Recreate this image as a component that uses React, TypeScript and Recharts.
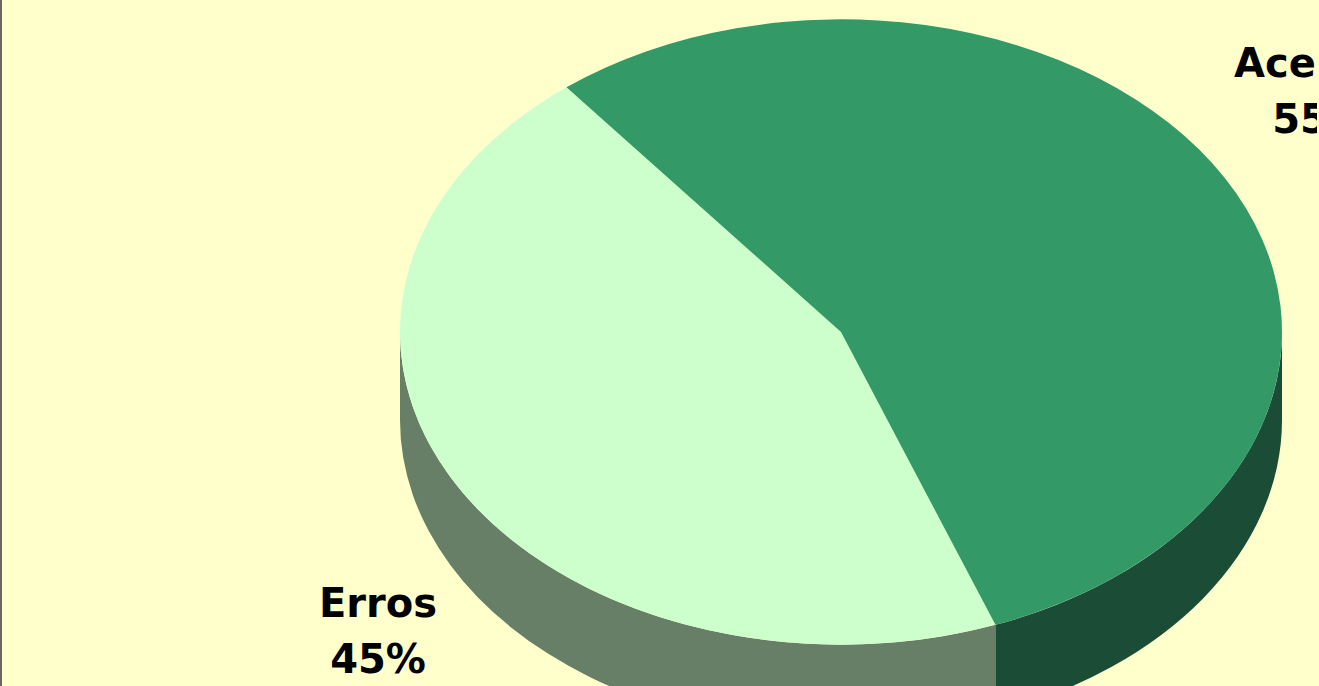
import React from 'react';
import { PieChart, Pie, Cell } from 'recharts';

const categories = ['Erros', 'Acertos'];
const values = [45, 55];
const topColors = ['#CCFFCC', '#339966'];
const sideColors = ['#667F66', '#1B4C35'];

const data = categories.map((name, i) => ({ name, value: values[i] }));

// 3d look: squash the circle into an ellipse and add a side wall
const TILT = 0.709;
const DEPTH = 88;
const RAD = Math.PI / 180;

const pt = (cx: number, cy: number, rx: number, ry: number, a: number, dy = 0) =>
  `${cx + rx * Math.cos(a * RAD)},${cy - ry * Math.sin(a * RAD) + dy}`;

const Slice3D = (props: any) => {
  const { cx, cy, outerRadius, startAngle, endAngle, payload } = props;
  const idx = categories.indexOf(payload?.name ?? props.name);
  const rx = outerRadius;
  const ry = outerRadius * TILT;
  const a1 = Math.min(startAngle, endAngle);
  const a2 = Math.max(startAngle, endAngle);
  const large = a2 - a1 > 180 ? 1 : 0;
  const top = `M${cx},${cy} L${pt(cx, cy, rx, ry, a1)} A${rx},${ry} 0 ${large} 0 ${pt(cx, cy, rx, ry, a2)} Z`;

  const sides: string[] = [];
  for (let k = -1; k <= 2; k++) {
    const s = Math.max(a1, 180 + 360 * k);
    const e = Math.min(a2, 360 + 360 * k);
    if (e > s) {
      const lg = e - s > 180 ? 1 : 0;
      sides.push(
        `M${pt(cx, cy, rx, ry, s)} A${rx},${ry} 0 ${lg} 0 ${pt(cx, cy, rx, ry, e)} ` +
          `L${pt(cx, cy, rx, ry, e, DEPTH)} A${rx},${ry} 0 ${lg} 1 ${pt(cx, cy, rx, ry, s, DEPTH)} Z`
      );
    }
  }

  return (
    <g>
      {sides.map((d, i) => (
        <path key={i} d={d} fill={sideColors[idx]} stroke="none" />
      ))}
      <path d={top} fill={topColors[idx]} stroke="none" />
    </g>
  );
};

const labelPos: Record<string, [number, number]> = {
  Erros: [378, 617],
  Acertos: [1320, 77],
};

const renderLabel = (props: any) => {
  const { name, percent } = props;
  const [x, y] = labelPos[name];
  return (
    <text
      x={x}
      y={y}
      textAnchor="middle"
      fontFamily="'DejaVu Sans', Verdana, sans-serif"
      fontWeight="bold"
      fontSize={40}
      fill="#000"
    >
      <tspan x={x} y={y}>{name}</tspan>
      <tspan x={x} y={y + 56}>{`${Math.round(percent * 100)}%`}</tspan>
    </text>
  );
};

const App: React.FC = () => {
  return (
    <div
      style={{
        position: 'absolute',
        left: 0,
        top: 0,
        width: 1319,
        height: 686,
        overflow: 'hidden',
        background: '#FFFFCC',
        borderLeft: '2px solid #6E6466',
        boxSizing: 'border-box',
      }}
    >
      <PieChart
        width={1317}
        height={686}
        margin={{ top: 0, right: 0, bottom: 0, left: 0 }}
        style={{ marginLeft: -2 }}
      >
        <Pie
          data={data}
          dataKey="value"
          nameKey="name"
          cx={841}
          cy={332}
          outerRadius={441}
          startAngle={128.5}
          endAngle={488.5}
          shape={Slice3D}
          label={renderLabel}
          labelLine={false}
          stroke="none"
          isAnimationActive={false}
        >
          {data.map((d, i) => (
            <Cell key={d.name} fill={topColors[i]} />
          ))}
        </Pie>
      </PieChart>
    </div>
  );
};

export default App;
